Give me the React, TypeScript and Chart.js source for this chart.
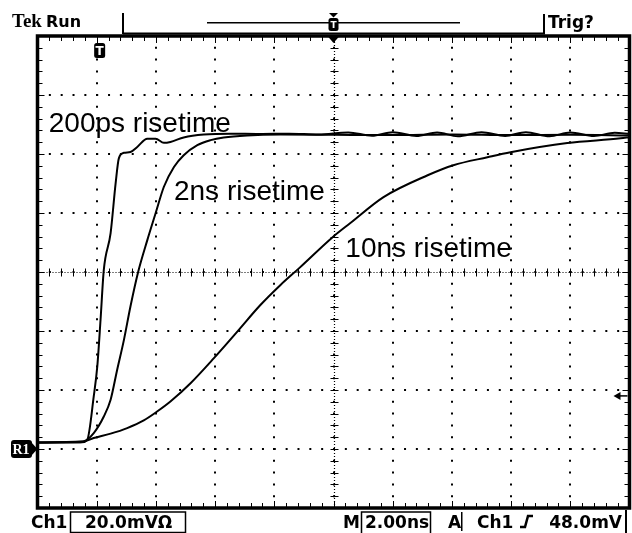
import React, { useEffect, useRef } from "react";
import { Chart, registerables } from "chart.js";

Chart.register(...registerables);

// Horizontal: 2.00 ns/div, trigger point at the centre of the record
const xMin = -10;
const xMax = 10;
const xStep = 2;
// Vertical: 20.0 mV/div
const yMin = -80;
const yMax = 80;
const yStep = 20;

// 200 ps risetime step (time in ns, level in mV)
const t200ps = [-10, -9.2, -8.5, -8.32, -8.1, -7.98, -7.87, -7.76, -7.53, -7.36, -7.25, -7.08, -6.86, -6.63, -6.29, -6.01, -5.73, -5.51, -5.06, -4.38, -3.48, -2.5, -1.5, -0.5, 0.5, 1.3, 2.0, 2.8, 3.5, 4.2, 5.0, 5.8, 6.5, 7.3, 8.0, 8.8, 9.5, 10];
const v200ps = [-57.8, -57.7, -57.7, -56.9, -42.2, -32.0, -16.2, 0.7, 13.2, 30.1, 38.6, 40.4, 40.7, 42.4, 45.2, 45.2, 43.8, 44.1, 45.6, 46.6, 46.9, 46.8, 46.9, 46.6, 47.3, 46.2, 47.4, 46.1, 47.3, 46.0, 47.4, 46.1, 47.4, 46.0, 47.3, 46.1, 47.2, 46.8];

// 2 ns risetime step
const t2ns = [-10, -8.45, -8.1, -7.76, -7.53, -7.31, -7.08, -6.86, -6.6, -6.29, -6.01, -5.73, -5.39, -5.06, -4.6, -4.15, -3.71, -2.92, -1.79, 0, 2, 4, 6, 8, 10];
const v2ns = [-57.8, -57.4, -54.6, -49.0, -43.3, -33.2, -23.0, -11.7, 0, 10.8, 19.9, 28.9, 35.6, 39.6, 43.0, 44.7, 45.6, 46.3, 46.6, 46.5, 46.4, 46.6, 46.4, 46.5, 46.3];

// 10 ns risetime step
const t10ns = [-10, -8.55, -8.1, -7.53, -6.97, -6.41, -5.96, -5.51, -4.83, -4.04, -3.25, -2.47, -1.79, -1.15, -0.03, 0.57, 1.69, 3.18, 4.05, 5.2, 5.98, 7.9, 9.7, 10];
const v10ns = [-57.8, -57.7, -56.3, -54.8, -52.9, -50.3, -47.3, -43.9, -37.7, -29.2, -20.2, -11.2, -4.4, 1.4, 11.8, 16.6, 25.4, 32.8, 36.2, 38.9, 40.6, 43.7, 45.3, 45.7];

// On-screen annotations
const traceLabels = ["200ps risetime", "2ns risetime", "10ns risetime"];
const labelTimes = [-9.62, -5.39, 0.4];
const labelLevels = [47.5, 24.4, 5.2];

// Scope readouts and markers
const statusLeft = ["Tek", "Run"];
const statusRight = "Trig?";
const channelName = "Ch1";
const voltsPerDiv = "20.0mV\u03A9";
const timePerDiv = "2.00ns";
const triggerMode = "A";
const triggerLevel = "48.0mV";
const referenceLevel = -60; // R1 marker (mV)
const triggerMarkerLevel = -42; // right-edge marker (mV)
const triggerPointTime = -7.9; // "T" marker (ns)

const pts = (t: number[], v: number[]) => t.map((tt, i) => ({ x: tt, y: v[i] }));

const scopePlugin = {
  id: "scopeDecor",
  beforeDatasetsDraw(chart: any) {
    const { ctx, chartArea: a, scales } = chart;
    const x = scales.x;
    const y = scales.y;
    const x0 = Math.round(x.getPixelForValue(0)) + 0.5;
    const y0 = Math.round(y.getPixelForValue(0)) + 0.5;
    ctx.save();
    ctx.strokeStyle = "#000";
    ctx.lineWidth = 1.2;
    ctx.setLineDash([1, 2]);
    ctx.beginPath();
    ctx.moveTo(x0, a.top);
    ctx.lineTo(x0, a.bottom);
    ctx.moveTo(a.left, y0);
    ctx.lineTo(a.right, y0);
    ctx.stroke();
    ctx.setLineDash([]);
    ctx.lineWidth = 1;
    ctx.beginPath();
    const nx = ((xMax - xMin) / xStep) * 5;
    for (let k = 0; k <= nx; k++) {
      const v = xMin + (k * xStep) / 5;
      const px = Math.round(x.getPixelForValue(v)) + 0.5;
      ctx.moveTo(px, y0 - 4);
      ctx.lineTo(px, y0 + 4);
      ctx.moveTo(px, a.top);
      ctx.lineTo(px, a.top + (k % 5 === 0 ? 7 : 5));
      ctx.moveTo(px, a.bottom);
      ctx.lineTo(px, a.bottom - (k % 5 === 0 ? 7 : 5));
    }
    const ny = ((yMax - yMin) / yStep) * 5;
    for (let k = 0; k <= ny; k++) {
      const v = yMin + (k * yStep) / 5;
      const py = Math.round(y.getPixelForValue(v)) + 0.5;
      ctx.moveTo(x0 - 4, py);
      ctx.lineTo(x0 + 4, py);
      ctx.moveTo(a.left, py);
      ctx.lineTo(a.left + (k % 5 === 0 ? 7 : 5), py);
      ctx.moveTo(a.right, py);
      ctx.lineTo(a.right - (k % 5 === 0 ? 7 : 5), py);
    }
    ctx.stroke();
    ctx.restore();
  },
  afterDraw(chart: any) {
    const { ctx, chartArea: a, scales } = chart;
    const x = scales.x;
    const y = scales.y;
    ctx.save();
    ctx.fillStyle = "#000";
    ctx.strokeStyle = "#000";

    // trace labels
    ctx.font = '28px "Liberation Sans", Arial, sans-serif';
    ctx.textBaseline = "alphabetic";
    ctx.textAlign = "left";
    traceLabels.forEach((s, i) => {
      ctx.fillText(s, x.getPixelForValue(labelTimes[i]), y.getPixelForValue(labelLevels[i]));
    });

    // frame
    ctx.lineWidth = 3.5;
    ctx.strokeRect(a.left, a.top, a.right - a.left, a.bottom - a.top);
    ctx.fillRect(123, 32.5, 422, 2);

    const xc = x.getPixelForValue(0);
    // trigger position triangle under the frame top
    ctx.beginPath();
    ctx.moveTo(xc - 6, a.top);
    ctx.lineTo(xc + 6, a.top);
    ctx.lineTo(xc, a.top + 7);
    ctx.closePath();
    ctx.fill();

    // "T" marker in graticule
    const tx = x.getPixelForValue(triggerPointTime);
    ctx.beginPath();
    ctx.roundRect(tx - 5.5, a.top + 7, 11, 15, 2.5);
    ctx.fill();
    ctx.fillStyle = "#fff";
    ctx.font = 'bold 12px "DejaVu Sans", sans-serif';
    ctx.textAlign = "center";
    ctx.fillText("T", tx, a.top + 19);
    ctx.fillStyle = "#000";

    // R1 reference marker
    const ry = y.getPixelForValue(referenceLevel);
    ctx.beginPath();
    ctx.roundRect(11, ry - 9, 21, 18, 3);
    ctx.fill();
    ctx.beginPath();
    ctx.moveTo(31, ry - 7);
    ctx.lineTo(a.left, ry);
    ctx.lineTo(31, ry + 7);
    ctx.closePath();
    ctx.fill();
    ctx.fillStyle = "#fff";
    ctx.font = 'bold 14px "Liberation Serif", serif';
    ctx.fillText("R1", 21, ry + 5);
    ctx.fillStyle = "#000";

    // right-edge trigger level marker
    const ty = y.getPixelForValue(triggerMarkerLevel);
    ctx.beginPath();
    ctx.moveTo(a.right - 16, ty);
    ctx.lineTo(a.right - 9, ty - 4);
    ctx.lineTo(a.right - 9, ty + 4);
    ctx.closePath();
    ctx.fill();
    ctx.fillRect(a.right - 10, ty - 0.75, 8, 1.5);

    // top status line
    ctx.textAlign = "left";
    ctx.font = 'bold 19px "Liberation Serif", serif';
    ctx.fillText(statusLeft[0], 12, 27);
    ctx.font = 'bold 16px "DejaVu Sans", sans-serif';
    ctx.fillText(statusLeft[1], 46, 27);
    ctx.fillRect(122, 13, 2, 21);
    ctx.fillRect(543, 14, 2, 20);
    ctx.font = 'bold 17px "DejaVu Sans", sans-serif';
    ctx.fillText(statusRight, 548, 27.5);
    ctx.fillRect(207, 22, 253, 1.5);
    // record view trigger marker
    ctx.beginPath();
    ctx.moveTo(xc - 4.5, 13);
    ctx.lineTo(xc + 4.5, 13);
    ctx.lineTo(xc, 17.5);
    ctx.closePath();
    ctx.fill();
    ctx.beginPath();
    ctx.roundRect(xc - 5, 18, 10, 13, 2.5);
    ctx.fill();
    ctx.fillStyle = "#fff";
    ctx.font = 'bold 9px "DejaVu Sans", sans-serif';
    ctx.textAlign = "center";
    ctx.fillText("T", xc, 28);
    ctx.fillStyle = "#000";

    // bottom readout
    ctx.textAlign = "left";
    ctx.font = 'bold 17px "DejaVu Sans", sans-serif';
    const by = 527.5;
    ctx.fillText(channelName, 31, by);
    ctx.lineWidth = 1.5;
    ctx.strokeRect(70.5, 512, 115, 20.5);
    ctx.fillText(voltsPerDiv, 85, by);
    ctx.fillText("M", 343, by);
    ctx.strokeRect(361.5, 512, 69, 23);
    ctx.fillText(timePerDiv, 365, by);
    ctx.fillText(triggerMode, 448, by);
    ctx.fillRect(461, 512, 1.5, 19);
    ctx.fillText(channelName, 477, by);
    ctx.lineWidth = 2.5;
    ctx.beginPath();
    ctx.moveTo(520, 527);
    ctx.lineTo(525, 527);
    ctx.lineTo(528, 516);
    ctx.lineTo(533, 516);
    ctx.stroke();
    ctx.textAlign = "right";
    ctx.fillText(triggerLevel, 622, by);
    ctx.fillRect(625, 510, 2, 23);
    ctx.restore();
  },
};

export default function App() {
  const canvasRef = useRef<HTMLCanvasElement | null>(null);

  useEffect(() => {
    const canvas = canvasRef.current;
    if (!canvas) return;
    const hidden = (ctx: any) =>
      ctx.tick && (ctx.tick.value === xMin || ctx.tick.value === xMax || ctx.tick.value === yMin || ctx.tick.value === yMax)
        ? "rgba(0,0,0,0)"
        : "#000";
    const trace = (label: string, t: number[], v: number[]) => ({
      label,
      data: pts(t, v),
      borderColor: "#000",
      borderWidth: 2,
      pointRadius: 0,
      fill: false,
      cubicInterpolationMode: "monotone" as const,
    });
    const chart = new Chart(canvas, {
      type: "line",
      data: {
        datasets: [
          trace("200ps", t200ps, v200ps),
          trace("2ns", t2ns, v2ns),
          trace("10ns", t10ns, v10ns),
        ],
      },
      options: {
        animation: false,
        responsive: false,
        devicePixelRatio: 1,
        events: [],
        layout: { padding: { left: 37.5, top: 36, right: 2.5, bottom: 25 } },
        plugins: { legend: { display: false }, tooltip: { enabled: false } },
        scales: {
          x: {
            type: "linear",
            min: xMin,
            max: xMax,
            ticks: { display: false, stepSize: xStep },
            grid: { color: hidden, lineWidth: 2, drawTicks: false },
            border: { display: false, dash: [2, 9.8], dashOffset: 1 },
          },
          y: {
            type: "linear",
            min: yMin,
            max: yMax,
            ticks: { display: false, stepSize: yStep },
            grid: { color: hidden, lineWidth: 2, drawTicks: false },
            border: { display: false, dash: [2, 9.84], dashOffset: 1 },
          },
        },
      },
      plugins: [scopePlugin],
    });
    return () => chart.destroy();
  }, []);

  return (
    <div style={{ position: "fixed", left: 0, top: 0, width: 632, height: 533, background: "#fff" }}>
      <canvas ref={canvasRef} width={632} height={533} style={{ display: "block", width: 632, height: 533 }} />
    </div>
  );
}
